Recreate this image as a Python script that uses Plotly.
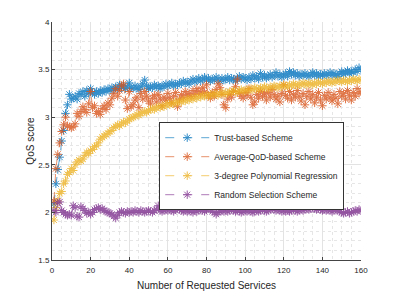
import plotly.graph_objects as go

x_services = list(range(1, 161))

trust_scheme = [
    2.09, 2.30, 2.45, 2.58, 2.75, 2.86, 3.04, 3.13, 3.24, 3.19,
    3.20, 3.22, 3.19, 3.25, 3.24, 3.27, 3.22, 3.28, 3.25, 3.30,
    3.26, 3.24, 3.27, 3.25, 3.28, 3.26, 3.29, 3.27, 3.30, 3.28,
    3.31, 3.29, 3.32, 3.30, 3.34, 3.31, 3.33, 3.30, 3.32, 3.36,
    3.31, 3.30, 3.33, 3.31, 3.29, 3.32, 3.35, 3.39, 3.33, 3.30,
    3.32, 3.31, 3.34, 3.32, 3.33, 3.30, 3.33, 3.32, 3.35, 3.33,
    3.34, 3.36, 3.33, 3.35, 3.34, 3.36, 3.35, 3.38, 3.36, 3.37,
    3.35, 3.38, 3.40, 3.37, 3.39, 3.41, 3.38, 3.40, 3.42, 3.39,
    3.41, 3.38, 3.40, 3.39, 3.42, 3.40, 3.38, 3.41, 3.39, 3.40,
    3.42, 3.39, 3.41, 3.40, 3.38, 3.41, 3.43, 3.40, 3.42, 3.41,
    3.39, 3.42, 3.40, 3.44, 3.41, 3.43, 3.40, 3.46, 3.42, 3.44,
    3.41, 3.43, 3.45, 3.42, 3.44, 3.47, 3.43, 3.45, 3.42, 3.44,
    3.46, 3.43, 3.48, 3.45, 3.47, 3.44, 3.46, 3.43, 3.45, 3.44,
    3.46, 3.44, 3.43, 3.45, 3.47, 3.44, 3.46, 3.43, 3.45, 3.44,
    3.46, 3.44, 3.45, 3.47, 3.44, 3.46, 3.45, 3.43, 3.46, 3.48,
    3.45, 3.47, 3.49, 3.46, 3.48, 3.47, 3.50, 3.48, 3.52, 3.50,
]

avg_qod_scheme = [
    2.12, 2.46, 2.61, 2.73, 2.85, 2.92, 3.00, 2.91, 2.90, 2.89,
    2.90, 2.93, 3.04, 3.01, 3.06, 3.11, 3.08, 3.05, 3.14, 3.27,
    3.10, 3.12, 3.04, 3.06, 3.03, 3.09, 3.12, 3.08, 3.15, 3.13,
    3.20, 3.25, 3.30, 3.22, 3.28, 3.33, 3.35, 3.18, 3.09, 3.27,
    3.11, 3.13, 3.18, 3.21, 3.10, 3.25, 3.19, 3.27, 3.22, 3.17,
    3.14, 3.20, 3.23, 3.16, 3.24, 3.19, 3.12, 3.21, 3.18, 3.25,
    3.20, 3.15, 3.22, 3.26, 3.11, 3.19, 3.24, 3.21, 3.27, 3.23,
    3.25, 3.22, 3.28, 3.24, 3.30, 3.27, 3.25, 3.31, 3.26, 3.34,
    3.23, 3.20, 3.26, 3.22, 3.29, 3.35, 3.31, 3.24, 3.13, 3.10,
    3.19, 3.24, 3.21, 3.27, 3.32, 3.40, 3.25, 3.22, 3.20, 3.26,
    3.23, 3.30, 3.21, 3.13, 3.16, 3.24, 3.20, 3.27, 3.22, 3.25,
    3.18, 3.26, 3.21, 3.29, 3.24, 3.19, 3.22, 3.16, 3.25, 3.34,
    3.23, 3.20, 3.27, 3.18, 3.24, 3.21, 3.28, 3.22, 3.17, 3.25,
    3.13, 3.22, 3.27, 3.19, 3.24, 3.15, 3.21, 3.26, 3.18, 3.12,
    3.23, 3.19, 3.26, 3.21, 3.17, 3.24, 3.20, 3.14, 3.27, 3.22,
    3.25, 3.19, 3.28, 3.23, 3.18, 3.26, 3.22, 3.30, 3.25, 3.27,
]

poly_regression = [
    1.92, 2.05, 2.12, 2.20, 2.22, 2.30, 2.33, 2.40, 2.42, 2.46,
    2.44, 2.50, 2.53, 2.55, 2.54, 2.56, 2.60, 2.63, 2.62, 2.65,
    2.66, 2.69, 2.70, 2.73, 2.77, 2.79, 2.80, 2.82, 2.83, 2.85,
    2.86, 2.89, 2.90, 2.92, 2.91, 2.93, 2.95, 2.94, 2.96, 2.98,
    2.99, 3.00, 3.01, 3.03, 3.02, 3.04, 3.05, 3.06, 3.05, 3.07,
    3.08, 3.09, 3.08, 3.10, 3.11, 3.10, 3.12, 3.11, 3.13, 3.14,
    3.13, 3.15, 3.14, 3.16, 3.15, 3.17, 3.16, 3.18, 3.17, 3.19,
    3.18, 3.20, 3.19, 3.21, 3.20, 3.22, 3.21, 3.23, 3.22, 3.23,
    3.22, 3.24, 3.23, 3.25, 3.24, 3.23, 3.25, 3.26, 3.24, 3.26,
    3.25, 3.27, 3.26, 3.28, 3.27, 3.26, 3.28, 3.29, 3.27, 3.28,
    3.29, 3.28, 3.30, 3.29, 3.31, 3.30, 3.29, 3.31, 3.30, 3.32,
    3.31, 3.30, 3.32, 3.31, 3.33, 3.32, 3.31, 3.33, 3.32, 3.34,
    3.33, 3.32, 3.34, 3.33, 3.35, 3.34, 3.33, 3.35, 3.34, 3.36,
    3.35, 3.34, 3.36, 3.35, 3.34, 3.36, 3.35, 3.37, 3.36, 3.35,
    3.37, 3.36, 3.38, 3.37, 3.36, 3.38, 3.37, 3.39, 3.38, 3.37,
    3.39, 3.38, 3.37, 3.39, 3.38, 3.40, 3.39, 3.38, 3.40, 3.39,
]

random_scheme = [
    2.02, 2.00, 2.10, 2.11, 2.02, 2.00, 1.98, 1.97, 1.98, 1.97,
    2.07, 2.05, 1.96, 1.95, 2.06, 2.04, 2.02, 1.99, 2.00, 1.98,
    2.00, 2.03, 2.04, 2.05, 2.03, 2.04, 2.02, 2.01, 2.00, 1.99,
    1.98, 1.96, 1.94, 1.97, 2.00, 2.01, 2.00, 1.99, 2.01, 2.00,
    2.01, 2.00, 2.02, 2.01, 2.00, 2.02, 2.01, 2.00, 2.01, 2.02,
    2.01, 2.00, 2.02, 2.03, 2.07, 2.02, 2.01, 2.02, 2.03, 2.02,
    2.03, 2.02, 2.01, 2.03, 2.04, 2.03, 2.02, 2.01, 2.02, 2.01,
    2.02, 2.01, 2.00, 2.02, 2.01, 2.02, 2.03, 2.02, 2.01, 2.03,
    2.04, 2.03, 2.01, 2.00, 1.98, 2.00, 2.01, 2.02, 2.01, 2.02,
    2.01, 2.02, 2.03, 2.02, 2.01, 2.02, 2.01, 2.00, 2.01, 2.02,
    2.01, 2.02, 2.01, 2.00, 2.01, 2.02, 2.01, 2.02, 2.03, 2.02,
    2.01, 2.02, 2.03, 2.04, 2.03, 2.02, 2.03, 2.02, 2.01, 2.02,
    2.01, 2.02, 2.01, 2.02, 2.03, 2.02, 2.01, 2.02, 2.03, 2.02,
    2.03, 2.04, 2.03, 2.04, 2.05, 2.04, 2.03, 2.04, 2.03, 2.02,
    2.03, 2.02, 2.03, 2.02, 2.01, 2.02, 2.03, 2.02, 2.01, 2.00,
    1.99, 2.00, 2.01, 1.99, 2.00, 2.01, 2.02, 2.01, 2.03, 2.02,
]

series_names = [
    "Trust-based Scheme",
    "Average-QoD-based Scheme",
    "3-degree Polynomial Regression",
    "Random Selection Scheme",
]
series_values = [trust_scheme, avg_qod_scheme, poly_regression, random_scheme]
series_colors = ["#0072BD", "#D95319", "#EDB120", "#7E2F8E"]

x_tick_vals = [0, 20, 40, 60, 80, 100, 120, 140, 160]
y_tick_vals = [1.5, 2, 2.5, 3, 3.5, 4]
y_tick_text = ["1.5", "2", "2.5", "3", "3.5", "4"]

fig = go.Figure()
for name, vals, col in zip(series_names, series_values, series_colors):
    fig.add_trace(go.Scatter(
        x=x_services, y=vals, name=name, mode="lines+markers",
        line=dict(color=col, width=0.8, dash="dash"),
        marker=dict(symbol="asterisk-open", size=7, color=col,
                    line=dict(color=col, width=1)),
        opacity=0.8,
    ))

font_family = "Liberation Sans, Arial, sans-serif"
fig.update_layout(
    width=391, height=284,
    margin=dict(l=44, r=38, t=14, b=32, autoexpand=False),
    paper_bgcolor="white", plot_bgcolor="white",
    font=dict(family=font_family, color="#262626", size=8),
    showlegend=True,
    legend=dict(
        x=0.347, y=0.579, xanchor="left", yanchor="top",
        bgcolor="white", bordercolor="#333333", borderwidth=1,
        font=dict(size=8.5, color="#262626", family=font_family),
        tracegroupgap=0, itemwidth=44,
    ),
)
fig.update_xaxes(
    range=[0, 160], tickvals=x_tick_vals, automargin=False,
    showline=True, linecolor="#444444", linewidth=1,
    ticks="inside", ticklen=3, tickcolor="#444444",
    ticklabelstandoff=2,
    showgrid=True, gridcolor="#e3e3e3", gridwidth=1,
    minor=dict(dtick=5, showgrid=True, gridcolor="#e6e6e6", griddash="dot"),
    zeroline=False,
    tickfont=dict(size=8, color="#262626"),
    title=dict(text="Number of Requested Services", font=dict(size=10, color="#262626"), standoff=8),
)
fig.update_yaxes(
    range=[1.5, 4], tickvals=y_tick_vals, ticktext=y_tick_text, automargin=False,
    showline=True, linecolor="#444444", linewidth=1,
    ticks="inside", ticklen=3, tickcolor="#444444",
    showgrid=True, gridcolor="#e3e3e3", gridwidth=1,
    minor=dict(dtick=0.1, showgrid=True, gridcolor="#e6e6e6", griddash="dot"),
    zeroline=False,
    tickfont=dict(size=8, color="#262626"),
    title=dict(text="QoS score", font=dict(size=10, color="#262626"), standoff=1),
)

fig.write_html("out.html")
